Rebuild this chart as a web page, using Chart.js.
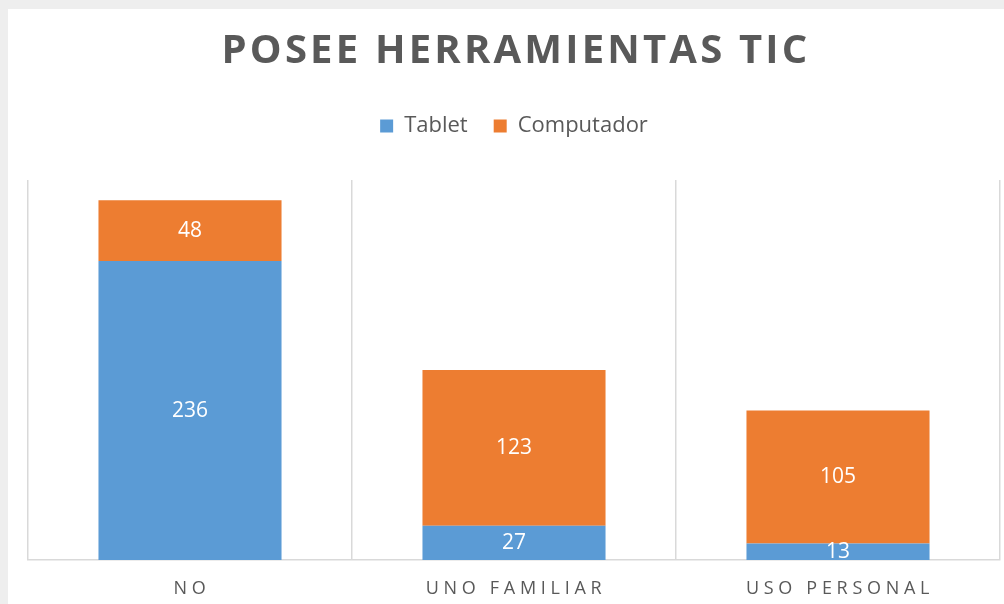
<!DOCTYPE html>
<html>
<head>
<meta charset="utf-8">
<script src="https://cdn.jsdelivr.net/npm/chart.js@4"></script>
<style>
  html, body { margin: 0; padding: 0; background: #eeeeee; }
  #marco { position: absolute; left: 8px; top: 9px; width: 996px; height: 595px; background: #ffffff; }
  #grafico { display: block; }
</style>
</head>
<body>
<div id="marco"><canvas id="grafico" width="996" height="595"></canvas></div>
<script>
"use strict";

/* ── DATOS ─────────────────────────────── */
const categorias = ["NO", "UNO FAMILIAR", "USO PERSONAL"];
const tablet     = [236, 27, 13];
const computador = [48, 123, 105];
const titulo     = "POSEE HERRAMIENTAS TIC";

const AZUL    = "#5B9BD5";
const NARANJA = "#ED7D31";
const GRIS    = "#595959";

/* ── PLUGIN: título con espaciado ──────── */
const tituloPlugin = {
  id: "tituloTic",
  afterDraw(chart) {
    const { ctx, chartArea } = chart;
    ctx.save();
    ctx.font = "bold 40px 'Open Sans'";
    ctx.letterSpacing = "3.2px";
    ctx.fillStyle = GRIS;
    ctx.textAlign = "center";
    ctx.textBaseline = "alphabetic";
    ctx.fillText(titulo, (chartArea.left + chartArea.right) / 2 + 2, 54);
    ctx.restore();
  }
};

/* ── PLUGIN: más aire bajo la leyenda ──── */
const leyendaPlugin = {
  id: "leyendaAire",
  afterInit(chart) {
    const fitOrig = chart.legend.fit;
    chart.legend.fit = function () {
      fitOrig.call(this);
      this.height += 33;
    };
  }
};

/* ── PLUGIN: etiquetas del eje X ───────── */
const ejeXPlugin = {
  id: "ejeX",
  afterDraw(chart) {
    const { ctx } = chart;
    const x = chart.scales.x;
    ctx.save();
    ctx.font = "18px 'Open Sans'";
    ctx.letterSpacing = "4.7px";
    ctx.fillStyle = GRIS;
    ctx.textAlign = "center";
    ctx.textBaseline = "middle";
    categorias.forEach((c, i) => {
      ctx.fillText(c, x.getPixelForValue(i) + 2, 580);
    });
    ctx.restore();
  }
};

/* ── PLUGIN: valores dentro de las barras ─ */
const valoresPlugin = {
  id: "valores",
  afterDatasetsDraw(chart) {
    const { ctx } = chart;
    ctx.save();
    ctx.font = "21px 'Open Sans'";
    ctx.fillStyle = "#ffffff";
    ctx.textAlign = "center";
    ctx.textBaseline = "middle";
    chart.data.datasets.forEach((ds, d) => {
      chart.getDatasetMeta(d).data.forEach((bar, i) => {
        const y = (bar.y + bar.base) / 2;
        ctx.fillText(String(ds.data[i]), bar.x, y);
      });
    });
    ctx.restore();
  }
};

/* ── GRÁFICO ───────────────────────────── */
new Chart(document.getElementById("grafico"), {
  type: "bar",
  data: {
    labels: categorias,
    datasets: [
      { label: "Tablet",     data: tablet,     backgroundColor: AZUL },
      { label: "Computador", data: computador, backgroundColor: NARANJA }
    ]
  },
  options: {
    responsive: false,
    animation: false,
    events: [],
    layout: { padding: { top: 80, bottom: 44, left: 20, right: 4 } },
    datasets: { bar: { barPercentage: 1, categoryPercentage: 0.565 } },
    plugins: {
      title: { display: false },
      tooltip: { enabled: false },
      legend: {
        position: "top",
        labels: {
          color: GRIS,
          font: { family: "'Open Sans'", size: 22 },
          boxWidth: 13,
          boxHeight: 13,
          padding: 26
        }
      }
    },
    scales: {
      x: {
        stacked: true,
        grid: { offset: true, color: "#d9d9d9", drawTicks: false, lineWidth: 1.5 },
        border: { color: "#d9d9d9", width: 1.5 },
        ticks: { display: false }
      },
      y: {
        stacked: true,
        display: false,
        min: 0,
        max: 300
      }
    }
  },
  plugins: [tituloPlugin, leyendaPlugin, ejeXPlugin, valoresPlugin]
});
</script>
</body>
</html>
